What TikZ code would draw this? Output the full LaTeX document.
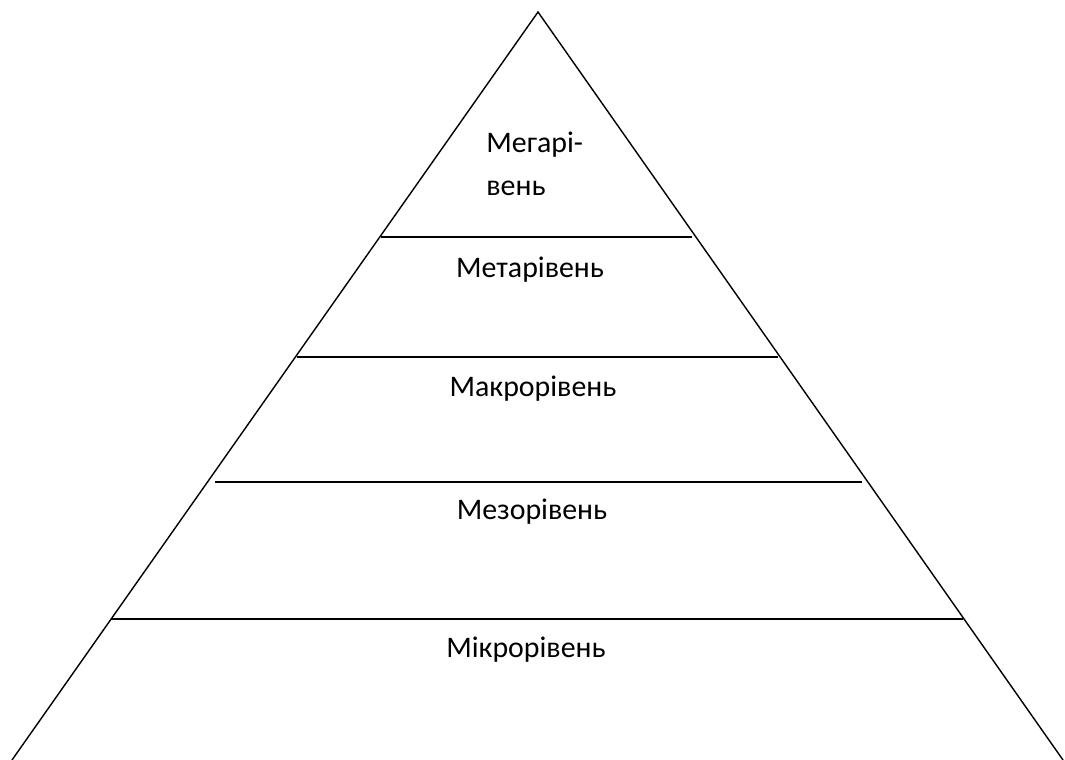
\documentclass[tikz,border=0pt]{standalone}
\usepackage{fontspec}
\setmainfont{Carlito}
\usetikzlibrary{positioning}

\tikzset{
  level/.style={font=\fontsize{17}{24.5}\selectfont, inner sep=0pt},
  edge/.style={draw, line width=0.8pt}
}

\begin{document}
\begin{tikzpicture}[x=0.02cm, y=-0.02cm]
   \useasboundingbox (0,0) rectangle (1065,760);

   % Corners
      \coordinate (top)   at (538,12);
      \coordinate (left)  at (12,760);
      \coordinate (right) at (1063,760);

   % Outline
      \path[edge] (left) -- (top) -- (right);

   % Level lines
      \coordinate (l1a) at (381,237);  \coordinate (l1b) at (692,237);
      \coordinate (l2a) at (297,357);  \coordinate (l2b) at (778,357);
      \coordinate (l3a) at (215,482);  \coordinate (l3b) at (862,482);
      \coordinate (l4a) at (111,619);  \coordinate (l4b) at (963,619);
      \path[edge] (l1a) -- (l1b);
      \path[edge] (l2a) -- (l2b);
      \path[edge] (l3a) -- (l3b);
      \path[edge] (l4a) -- (l4b);

   % Labels
      \node[level, align=left, anchor=west] (mega)  at (486,164) {Мегарі-\\вень};
      \node[level] (meta)  at (530,270) {Метарівень};
      \node[level] (makro) at (533,389) {Макрорівень};
      \node[level] (mezo)  at (532,512) {Мезорівень};
      \node[level] (mikro) at (526,650) {Мікрорівень};
\end{tikzpicture}
\end{document}
